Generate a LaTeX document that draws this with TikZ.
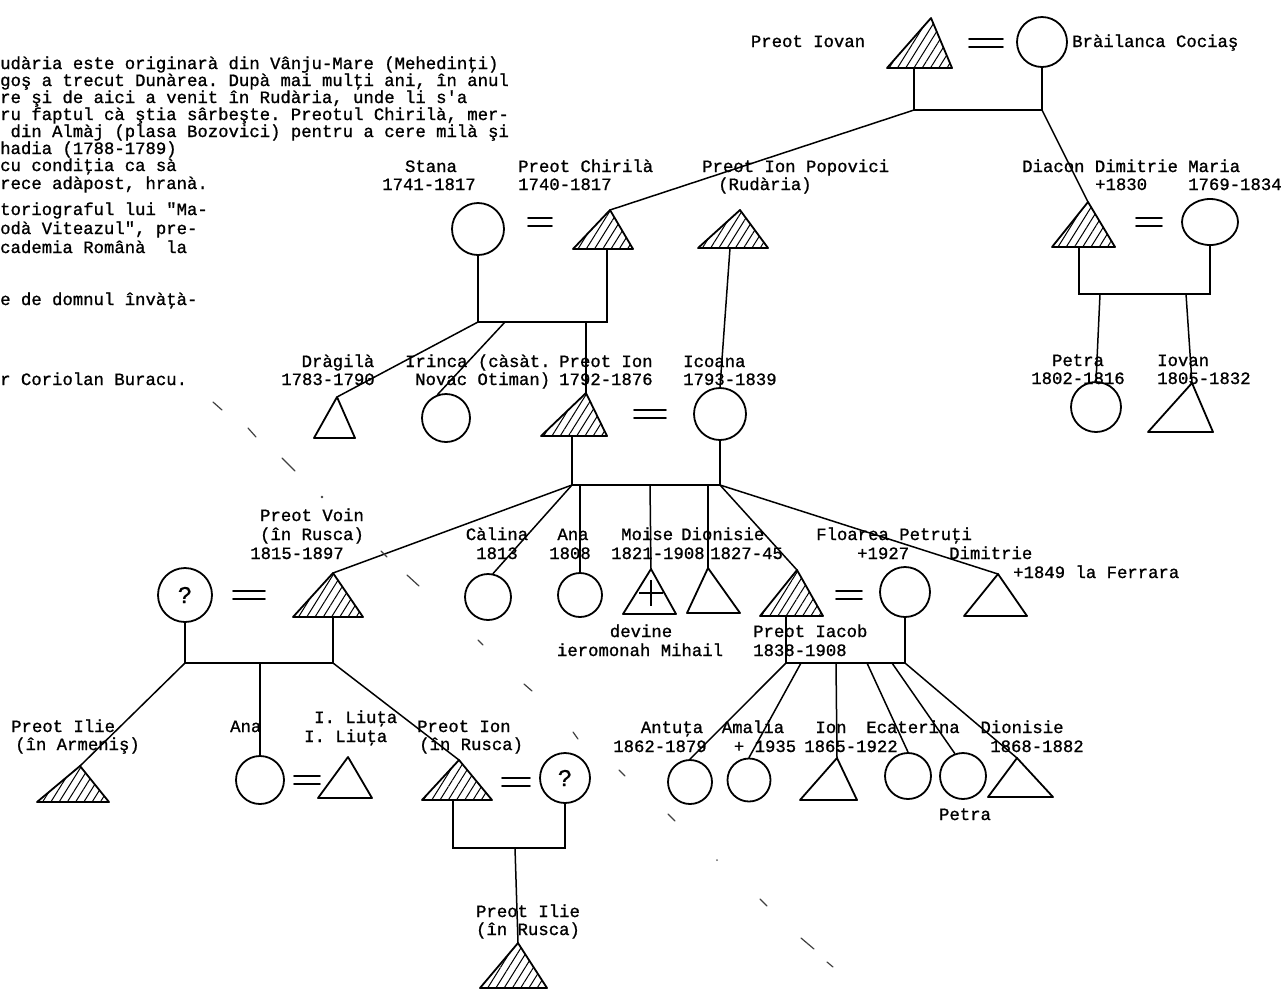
\documentclass[tikz,border=0pt]{standalone}
\usepackage{fontspec}
\setmonofont{Liberation Mono}[FakeBold=1]
\usetikzlibrary{patterns.meta,shapes.geometric}
\newcommand\lbfont{\ttfamily\fontsize{17.3}{18.5}\selectfont}
\newcommand\mktri[7][]{%
  \coordinate (#2-a) at (#3,#4);
  \coordinate (#2-l) at (#5,#7);
  \coordinate (#2-r) at (#6,#7);
  \draw[shp,#1] (#2-a) -- (#2-r) -- (#2-l) -- cycle;}
\newcommand\mkeq[4]{%
  \coordinate (#1) at (#2,#3);
  \draw[eqs] ([shift={(-#4,-4)}]#1) -- ([shift={(#4,-4)}]#1);
  \draw[eqs] ([shift={(-#4,4)}]#1) -- ([shift={(#4,4)}]#1);}
\begin{document}
\begin{tikzpicture}[x=1pt,y=-1pt,
  shp/.style={line width=1.8pt,line join=round},
  con/.style={line width=1.5pt,line cap=round},
  circ/.style={circle,draw,line width=1.8pt,inner sep=0pt},
  ell/.style={ellipse,draw,line width=1.8pt,inner sep=0pt},
  hatch/.style={pattern={Lines[angle=58,distance=7pt,line width=1pt]}},
  eqs/.style={line width=1.7pt,line cap=round},
  lbl/.style={inner sep=0pt,text height=13pt,text depth=3pt,font=\lbfont},
  scan/.style={line width=1.2pt,black!75,line cap=round}]
\useasboundingbox (0,0) rectangle (1281,989);
\fill[white] (0,0) rectangle (1281,989);

% ---------- paragraph (cut at the left) ----------
\node[lbl,anchor=west] (p1) at (0,64) {udària este originarà din Vânju-Mare (Mehedinţi)};
\node[lbl,anchor=west] (p2) at (0,81) {goş a trecut Dunàrea. Dupà mai mulţi ani, în anul};
\node[lbl,anchor=west] (p3) at (0,98) {re şi de aici a venit în Rudària, unde li s'a};
\node[lbl,anchor=west] (p4) at (0,115) {ru faptul cà ştia sârbeşte. Preotul Chirilà, mer-};
\node[lbl,anchor=west] (p5) at (0,132) {\phantom{x}din Almàj (plasa Bozovici) pentru a cere milà şi};
\node[lbl,anchor=west] (p6) at (0,149) {hadia (1788-1789)};
\node[lbl,anchor=west] (p7) at (0,166) {cu condiţia ca sà};
\node[lbl,anchor=west] (p8) at (0,184) {rece adàpost, hranà.};
\node[lbl,anchor=west] (p9) at (0,210) {toriograful lui "Ma-};
\node[lbl,anchor=west] (p10) at (0,229) {odà Viteazul", pre-};
\node[lbl,anchor=west] (p11) at (0,248) {cademia Românà\phantom{x}\phantom{x}la};
\node[lbl,anchor=west] (p12) at (0,300) {e de domnul învàţà-};
\node[lbl,anchor=west] (p13) at (0,380) {r Coriolan Buracu.};

% ---------- generation 1 ----------
\node[lbl] (lIovan) at (808,42) {Preot Iovan};
\node[lbl,anchor=west] (lBrail) at (1072,42) {Bràilanca Cociaş};
\mktri[hatch]{tIovan}{931}{18}{887}{952}{68}
\mkeq{e1}{986}{43}{17}
\node[circ,minimum size=50pt] (cBrail) at (1042,42) {};
\coordinate (b1l) at (914,110);
\coordinate (b1r) at (1042,110);
\draw[con] (b1l |- tIovan-l) -- (b1l) -- (b1r) -- (cBrail.south);

% ---------- generation 2 ----------
\node[lbl] (lStana) at (431,167) {Stana};
\node[lbl] (lStanaD) at (429,185) {1741-1817};
\node[lbl,anchor=west] (lChir) at (518,167) {Preot Chirilà};
\node[lbl,anchor=west] (lChirD) at (518,185) {1740-1817};
\node[lbl,anchor=west] (lPopo) at (702,167) {Preot Ion Popovici};
\node[lbl,anchor=west] (lPopoD) at (718,185) {(Rudària)};
\node[lbl,anchor=west] (lDiac) at (1022,167) {Diacon Dimitrie};
\node[lbl,anchor=west] (lDiacD) at (1095,185) {+1830};
\node[lbl,anchor=west] (lMaria) at (1188,167) {Maria};
\node[lbl,anchor=west] (lMariaD) at (1188,185) {1769-1834};

\node[circ,minimum size=52pt] (cStana) at (478,229) {};
\mkeq{e2}{540}{222}{12}
\mktri[hatch]{tChir}{610}{210}{573}{633}{249}
\mktri[hatch]{tPopo}{740}{210}{698}{768}{248}
\mktri[hatch]{tDiac}{1088}{202}{1052}{1115}{247}
\mkeq{e3}{1149}{222}{13}
\node[ell,minimum width=56pt,minimum height=46pt] (cMaria) at (1210,222) {};

\draw[con] (b1l) -- (tChir-a);
\draw[con] (b1r) -- (tDiac-a);

\coordinate (b2l) at (478,322);
\coordinate (b2r) at (607,322);
\draw[con] (cStana.south) -- (b2l) -- (b2r) -- (b2r |- tChir-l);
\coordinate (bDl) at (1079,294);
\coordinate (bDr) at (1210,294);
\draw[con] (bDl |- tDiac-l) -- (bDl) -- (bDr) -- (cMaria.south);

% ---------- generation 3 ----------
\node[lbl] (lDrag) at (338,362) {Dràgilà};
\node[lbl] (lDragD) at (328,380) {1783-1790};
\node[lbl,anchor=west] (lIrin) at (405,362) {Irinca (càsàt.};
\node[lbl,anchor=west] (lIrinD) at (415,380) {Novac Otiman)};
\node[lbl,anchor=west] (lIon) at (559,362) {Preot Ion};
\node[lbl,anchor=west] (lIonD) at (559,380) {1792-1876};
\node[lbl,anchor=west] (lIcoa) at (683,362) {Icoana};
\node[lbl,anchor=west] (lIcoaD) at (683,380) {1793-1839};
\node[lbl] (lPetD) at (1078,361) {Petra};
\node[lbl] (lPetDD) at (1078,379) {1802-1816};
\node[lbl,anchor=west] (lIovD) at (1157,361) {Iovan};
\node[lbl,anchor=west] (lIovDD) at (1157,379) {1805-1832};

\mktri{tDrag}{337}{397}{314}{355}{438}
\node[circ,minimum size=48pt] (cIrin) at (446,418) {};
\mktri[hatch]{tIon}{586}{393}{541}{607}{436}
\mkeq{e4}{650}{414}{16}
\node[circ,minimum size=52pt] (cIcoa) at (720,414) {};
\node[circ,minimum size=50pt] (cPetD) at (1096,407) {};
\mktri{tIovD}{1192}{383}{1148}{1213}{432}

\coordinate (b2i) at (505,322);
\coordinate (b2c) at (586,322);
\coordinate (pp) at (730,248);
\draw[con] (b2l) -- (tDrag-a);
\draw[con] (b2i) -- (cIrin.110);
\draw[con] (b2c) -- (tIon-a);
\draw[con] (pp) -- (cIcoa.north);
\coordinate (bDp) at (1100,294);
\coordinate (bDi) at (1186,294);
\draw[con] (bDp) -- (cPetD.north);
\draw[con] (bDi) -- (tIovD-a);

\coordinate (b3l) at (572,485);
\coordinate (b3r) at (720,485);
\draw[con] (b3l |- tIon-l) -- (b3l) -- (b3r) -- (cIcoa.south);

% ---------- generation 4 ----------
\node[lbl] (lVoin1) at (312,516) {Preot Voin};
\node[lbl] (lVoin2) at (312,535) {(în Rusca)};
\node[lbl] (lVoin3) at (297,554) {1815-1897};
\node[lbl] (lCal) at (497,535) {Càlina};
\node[lbl] (lCalD) at (497,554) {1813};
\node[lbl] (lAna1) at (573,535) {Ana};
\node[lbl] (lAna1D) at (570,554) {1808};
\node[lbl,anchor=west] (lMoi) at (621,535) {Moise};
\node[lbl,anchor=west] (lMoiD) at (611,554) {1821-1908};
\node[lbl,anchor=west] (lDio) at (681,535) {Dionisie};
\node[lbl,anchor=west] (lDioD) at (710,554) {1827-45};
\node[lbl,anchor=west] (lFlo) at (816,535) {Floarea Petruţi};
\node[lbl,anchor=west] (lFloD) at (857,554) {+1927};
\node[lbl,anchor=west] (lDim) at (949,554) {Dimitrie};
\node[lbl,anchor=west] (lDimD) at (1013,573) {+1849 la Ferrara};
\node[lbl] (lDev1) at (641,632) {devine};
\node[lbl] (lDev2) at (640,651) {ieromonah Mihail};
\node[lbl,anchor=west] (lIac) at (753,632) {Preot Iacob};
\node[lbl,anchor=west] (lIacD) at (753,651) {1838-1908};

\node[circ,minimum size=54pt,font=\ttfamily\fontsize{24}{24}\selectfont] (cQ1) at (185,595) {?};
\mkeq{e5}{249}{595}{16}
\mktri[hatch]{tVoin}{333}{573}{293}{363}{617}
\node[circ,minimum size=46pt] (cCal) at (488,597) {};
\node[circ,minimum size=44pt] (cAna1) at (580,595) {};
\mktri{tMoi}{651}{569}{623}{676}{614}
\coordinate (mp) at (651,593);
\draw[shp] ([shift={(0,-13)}]mp) -- ([shift={(0,13)}]mp);
\draw[shp] ([shift={(-12,0)}]mp) -- ([shift={(12,0)}]mp);
\mktri{tDio}{708}{568}{687}{740}{613}
\mktri[hatch]{tIac}{797}{570}{760}{823}{616}
\mkeq{e6}{849}{595}{13}
\node[circ,minimum size=50pt] (cFlo) at (905,592) {};
\mktri{tDim}{998}{574}{964}{1027}{616}

\coordinate (b3a) at (580,485);
\coordinate (b3m) at (650,485);
\coordinate (b3d) at (708,485);
\draw[con] (b3l) -- (tVoin-a);
\draw[con] (b3l) -- (cCal.78);
\draw[con] (b3a) -- (cAna1.north);
\draw[con] (b3m) -- (tMoi-a);
\draw[con] (b3d) -- (tDio-a);
\draw[con] (b3r) -- (tIac-a);
\draw[con] (b3r) -- (tDim-a);

\coordinate (b4l) at (786,663);
\coordinate (b4r) at (905,663);
\draw[con] (b4l |- tIac-l) -- (b4l) -- (b4r) -- (cFlo.south);

\coordinate (b5l) at (185,663);
\coordinate (b5r) at (333,663);
\draw[con] (cQ1.south) -- (b5l) -- (b5r) -- (b5r |- tVoin-l);

% ---------- generation 5 ----------
\node[lbl,anchor=west] (lIlie1) at (11,727) {Preot Ilie};
\node[lbl,anchor=west] (lIlie2) at (15,745) {(în Armeniş)};
\node[lbl,anchor=west] (lAna2) at (230,727) {Ana};
\node[lbl,anchor=west] (lLiu1) at (314,718) {I. Liuţa};
\node[lbl,anchor=west] (lLiu2) at (304,737) {I. Liuţa};
\node[lbl,anchor=west] (lIonR1) at (417,727) {Preot Ion};
\node[lbl,anchor=west] (lIonR2) at (419,745) {(în Rusca)};
\node[lbl] (lAnt) at (672,728) {Antuţa};
\node[lbl] (lAntD) at (660,747) {1862-1879};
\node[lbl] (lAma) at (753,728) {Amalia};
\node[lbl] (lAmaD) at (765,747) {+ 1935};
\node[lbl] (lIon2) at (831,728) {Ion};
\node[lbl] (lIon2D) at (851,747) {1865-1922};
\node[lbl] (lEca) at (913,728) {Ecaterina};
\node[lbl] (lDio2) at (1022,728) {Dionisie};
\node[lbl] (lDio2D) at (1037,747) {1868-1882};
\node[lbl] (lPet2) at (965,815) {Petra};

\mktri[hatch]{tIlie}{80}{766}{37}{109}{802}
\node[circ,minimum size=48pt] (cAna2) at (260,780) {};
\mkeq{e7}{307}{780}{13}
\mktri{tLiu}{348}{757}{318}{372}{798}
\mktri[hatch]{tIonR}{459}{760}{422}{492}{800}
\mkeq{e8}{516}{782}{14}
\node[circ,minimum size=50pt,font=\ttfamily\fontsize{24}{24}\selectfont] (cQ2) at (565,778) {?};

\node[circ,minimum size=44pt] (cAnt) at (690,782) {};
\node[circ,minimum size=43pt] (cAma) at (749,780) {};
\mktri{tIon2}{837}{758}{800}{857}{800}
\node[circ,minimum size=46pt] (cEca) at (908,776) {};
\node[circ,minimum size=46pt] (cPet2) at (963,776) {};
\mktri{tDio2}{1017}{758}{988}{1053}{797}

\coordinate (b5a) at (260,663);
\draw[con] (b5l) -- (tIlie-a);
\draw[con] (b5a) -- (cAna2.north);
\draw[con] (b5r) -- (tIonR-a);

\coordinate (b4b) at (801,663);
\coordinate (b4c) at (836,663);
\coordinate (b4d) at (867,663);
\coordinate (b4e) at (892,663);
\draw[con] (b4l) -- (cAnt.north);
\draw[con] (b4b) -- (cAma.north);
\draw[con] (b4c) -- (tIon2-a);
\draw[con] (b4d) -- (cEca.north);
\draw[con] (b4e) -- (cPet2.110);
\draw[con] (b4r) -- (tDio2-a);

\coordinate (b6l) at (453,848);
\coordinate (b6r) at (565,848);
\draw[con] (b6l |- tIonR-l) -- (b6l) -- (b6r) -- (cQ2.south);

% ---------- generation 6 ----------
\node[lbl] (lIlie3) at (528,912) {Preot Ilie};
\node[lbl] (lIlie4) at (528,930) {(în Rusca)};
\mktri[hatch]{tIlie2}{518}{943}{480}{547}{988}
\coordinate (b6c) at (515,848);
\draw[con] (b6c) -- (tIlie2-a);

% ---------- scan marks ----------
\draw[scan] (213,402) -- (222,410);
\draw[scan] (248,428) -- (256,437);
\draw[scan] (282,458) -- (295,471);
\fill[black!75] (322,497) circle (1.3);
\draw[scan] (381,551) -- (387,557);
\draw[scan] (407,575) -- (419,586);
\draw[scan] (478,640) -- (483,645);
\draw[scan] (524,684) -- (532,691);
\draw[scan] (573,732) -- (578,739);
\draw[scan] (619,770) -- (625,776);
\draw[scan] (668,814) -- (675,821);
\fill[black!60] (717,860) circle (1);
\draw[scan] (760,899) -- (767,906);
\draw[scan] (801,938) -- (814,949);
\draw[scan] (827,962) -- (833,967);
\end{tikzpicture}
\end{document}
